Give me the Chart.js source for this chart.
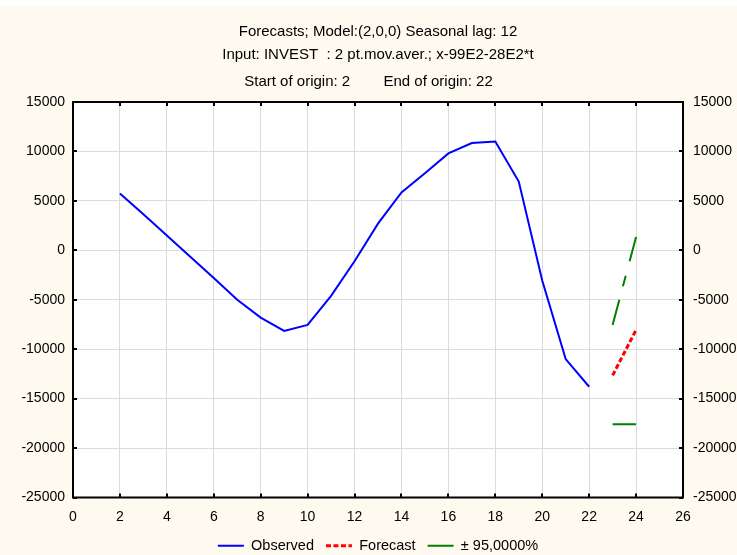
<!DOCTYPE html>
<html><head><meta charset="utf-8">
<script src="https://cdn.jsdelivr.net/npm/chart.js@4.4.0/dist/chart.umd.min.js"></script>
<style>html,body{margin:0;padding:0;background:#fff}#wrap{width:737px;height:555px;position:relative}canvas{display:block}</style>
</head><body><div id="wrap"><canvas id="c" width="737" height="555"></canvas></div>
<script>
const titleLines = ["Forecasts; Model:(2,0,0) Seasonal lag: 12", "Input: INVEST  : 2 pt.mov.aver.; x-99E2-28E2*t"];
const subtitleLine = "Start of origin: 2        End of origin: 22";
const legendLabels = ["Observed", "Forecast", "\u00B1 95,0000%"];

const observedX = [2,3,4,5,6,7,8,9,10,11,12,13,14,15,16,17,18,19,20,21,22];
const observedY = [5750,3650,1500,-650,-2800,-5000,-6800,-8150,-7550,-4600,-1100,2700,5850,7800,9800,10850,11000,6950,-3050,-11000,-13800];
const forecastX = [23,24];
const forecastY = [-12650,-8050];
const upperX = [23,24];
const upperY = [-7550,1350];
const lowerX = [23,24];
const lowerY = [-17600,-17600];

const xMin = 0, xMax = 26, xStep = 2;
const yMin = -25000, yMax = 15000, yStep = 5000;

const pts = (xs, ys) => xs.map((x, i) => ({x, y: ys[i]}));
const FONT = "'Liberation Sans', Arial, sans-serif";
const plain = v => String(v);

const framePlugin = {
  id: 'frame',
  afterLayout(chart) {
    const a = chart.chartArea;
    [chart.titleBlock, chart.$subtitle, chart.legend].forEach(b => {
      if (b) { b.left = a.left; b.right = a.right; }
    });
    if (chart.legend) { chart.legend.top += 8; chart.legend.bottom += 8; }
    chart.scales.x.bottom += 14;
  },
  beforeDraw(chart) {
    const ctx = chart.ctx, a = chart.chartArea;
    ctx.save();
    ctx.fillStyle = '#ffffff';
    ctx.fillRect(0, 0, chart.width, chart.height);
    ctx.fillStyle = '#fffaf0';
    ctx.fillRect(0, 6, chart.width, chart.height - 6);
    ctx.fillStyle = '#ffffff';
    ctx.fillRect(a.left, a.top, a.right - a.left, a.bottom - a.top);
    ctx.restore();
  },
  afterDatasetsDraw(chart) {
    const ctx = chart.ctx, a = chart.chartArea;
    const xs = chart.scales.x, ys = chart.scales.y;
    ctx.save();
    ctx.strokeStyle = '#000';
    ctx.lineWidth = 2;
    ctx.beginPath();
    xs.ticks.forEach(t => {
      const px = Math.round(xs.getPixelForValue(t.value));
      ctx.moveTo(px, a.bottom); ctx.lineTo(px, a.bottom - 4);
      ctx.moveTo(px, a.top); ctx.lineTo(px, a.top + 4);
    });
    ys.ticks.forEach(t => {
      const py = Math.round(ys.getPixelForValue(t.value));
      ctx.moveTo(a.left, py); ctx.lineTo(a.left + 4, py);
      ctx.moveTo(a.right, py); ctx.lineTo(a.right - 4, py);
    });
    ctx.stroke();
    ctx.strokeRect(a.left, a.top, a.right - a.left, a.bottom - a.top);
    ctx.restore();
  }
};

new Chart(document.getElementById('c'), {
  type: 'line',
  data: {
    datasets: [
      {label: legendLabels[0], data: pts(observedX, observedY), borderColor: '#0000ff', borderWidth: 2, pointRadius: 0, tension: 0, fill: false},
      {label: legendLabels[1], data: pts(forecastX, forecastY), borderColor: '#ff0000', borderWidth: 3, borderDash: [5, 2.5], pointRadius: 0, fill: false},
      {label: legendLabels[2], data: pts(upperX, upperY), borderColor: '#008000', borderWidth: 2, borderDash: [26, 14, 11, 15], pointRadius: 0, fill: false},
      {label: legendLabels[2] + ' ', data: pts(lowerX, lowerY), borderColor: '#008000', borderWidth: 2, pointRadius: 0, fill: false}
    ]
  },
  options: {
    responsive: false,
    animation: false,
    devicePixelRatio: 1,
    layout: {padding: {left: 0, right: 0, top: 0, bottom: 0}},
    plugins: {
      title: {display: true, text: titleLines, color: '#000', font: {family: FONT, size: 15, weight: 'normal', lineHeight: '23px'}, padding: {top: 20, bottom: 0}},
      subtitle: {display: true, text: subtitleLine, color: '#000', font: {family: FONT, size: 15, weight: 'normal', lineHeight: '23px'}, padding: {top: 4, bottom: 9}},
      legend: {
        position: 'bottom',
        labels: {
          color: '#000', font: {family: FONT, size: 14.5}, usePointStyle: true, pointStyleWidth: 26, boxHeight: 10, padding: 12,
          generateLabels(chart) {
            const ds = chart.data.datasets;
            return [0, 1, 2].map(i => ({
              text: legendLabels[i], strokeStyle: ds[i].borderColor, fillStyle: ds[i].borderColor,
              lineWidth: i === 1 ? 3 : 2, lineDash: i === 1 ? [5, 2.5] : [], pointStyle: 'line', datasetIndex: i, hidden: false
            }));
          }
        }
      },
      tooltip: {enabled: false}
    },
    scales: {
      x: {
        type: 'linear', min: xMin, max: xMax,
        ticks: {stepSize: xStep, color: '#000', font: {family: FONT, size: 14}, padding: 11, maxRotation: 0, autoSkip: false, callback: plain},
        grid: {color: '#dcdcdc', lineWidth: 1, drawTicks: false},
        border: {display: false},
        afterFit(s) { s.height = 21; }
      },
      y: {
        type: 'linear', position: 'left', min: yMin, max: yMax,
        ticks: {stepSize: yStep, color: '#000', font: {family: FONT, size: 14}, padding: 8, autoSkip: false, callback: plain},
        grid: {color: '#dcdcdc', lineWidth: 1, drawTicks: false},
        border: {display: false},
        afterFit(s) { s.width = 73; }
      },
      y2: {
        type: 'linear', position: 'right', min: yMin, max: yMax,
        ticks: {stepSize: yStep, color: '#000', font: {family: FONT, size: 14}, padding: 10, autoSkip: false, callback: plain},
        grid: {display: false, drawTicks: false},
        border: {display: false},
        afterFit(s) { s.width = 54; }
      }
    }
  },
  plugins: [framePlugin]
});
</script></body></html>
